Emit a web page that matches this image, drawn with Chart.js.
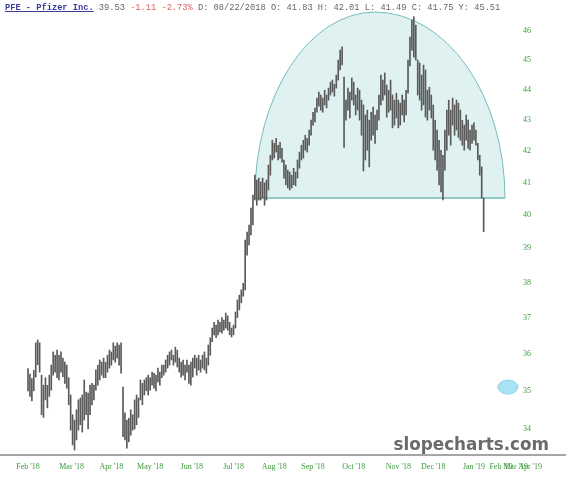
<!DOCTYPE html>
<html>
<head>
<meta charset="utf-8">
<script src="https://cdn.jsdelivr.net/npm/chart.js@4.4.1/dist/chart.umd.min.js"></script>
<style>
html, body { margin: 0; padding: 0; background: #fff; }
#wrap { position: relative; width: 566px; height: 480px; }
#head { position: absolute; left: 5px; top: 3px; font: 8.7px 'Liberation Mono', monospace; color: #666; white-space: pre; }
#head .sym { color: #3b3ba0; text-decoration: underline; font-weight: bold; }
#head .dn { color: #e06060; }
</style>
</head>
<body>
<div id="wrap">
<canvas id="chart" width="566" height="480"></canvas>
<div id="head"><span class="sym">PFE - Pfizer Inc.</span> 39.53 <span class="dn">-1.11 -2.73%</span> D: 08/22/2018 O: 41.83 H: 42.01 L: 41.49 C: 41.75 Y: 45.51</div>
</div>
<script>
// daily high / low, one entry per trading day from Feb '18
var highs = [
    35.60, 35.45, 35.33, 35.55, 36.30, 36.38, 36.30, 35.42, 35.15, 35.35,
    35.15, 35.42, 35.69, 36.05, 35.96, 36.10, 35.96, 36.05, 35.88, 35.77,
    35.69, 35.35, 34.89, 34.37, 34.23, 34.50, 34.76, 34.81, 34.89, 35.29,
    34.97, 34.94, 35.15, 35.20, 35.15, 35.56, 35.69, 35.83, 35.77, 35.88,
    35.77, 35.96, 36.10, 36.05, 36.30, 36.21, 36.30, 36.24, 36.30, 35.10,
    34.42, 34.23, 34.28, 34.50, 34.37, 34.76, 34.89, 34.81, 35.29, 35.20,
    35.29, 35.35, 35.42, 35.35, 35.50, 35.47, 35.42, 35.61, 35.50, 35.69,
    35.69, 35.83, 35.96, 36.05, 36.10, 35.96, 36.18, 36.10, 35.88, 35.77,
    35.83, 35.69, 35.83, 35.69, 35.77, 35.88, 35.96, 35.88, 35.96, 35.83,
    35.96, 36.05, 35.88, 36.24, 36.44, 36.71, 36.87, 36.79, 36.93, 36.87,
    37.00, 36.93, 37.13, 37.05, 36.87, 36.71, 36.79, 37.16, 37.50, 37.64,
    37.79, 37.98, 39.25, 39.49, 39.70, 40.21, 40.61, 41.23, 41.08, 41.14,
    41.02, 41.14, 40.99, 41.08, 41.55, 41.86, 42.34, 42.24, 42.40, 42.18,
    42.27, 42.08, 41.71, 41.55, 41.39, 41.33, 41.23, 41.45, 41.33, 41.71,
    41.96, 42.18, 42.34, 42.50, 42.40, 42.67, 42.99, 43.25, 43.39, 43.72,
    43.92, 43.82, 43.72, 43.98, 43.82, 44.05, 44.25, 44.32, 44.18, 44.49,
    45.00, 45.34, 45.45, 44.42, 43.65, 44.05, 43.92, 44.39, 44.25, 43.82,
    44.05, 43.98, 43.65, 43.49, 43.16, 43.32, 42.99, 43.25, 43.42, 43.16,
    43.32, 43.82, 44.49, 44.32, 44.56, 44.15, 43.98, 44.32, 43.82, 43.65,
    43.88, 43.65, 43.55, 43.82, 43.65, 43.98, 45.00, 45.79, 46.39, 46.50,
    46.21, 45.00, 44.90, 44.49, 44.83, 44.66, 43.98, 44.08, 43.82, 43.49,
    42.99, 42.67, 42.34, 42.02, 41.86, 42.67, 43.32, 43.65, 43.32, 43.72,
    43.49, 43.65, 43.55, 43.32, 42.99, 42.83, 43.16, 42.99, 42.67, 42.83,
    42.90, 42.67, 42.24, 41.86, 41.49, 40.52
];
var lows = [
    35.00, 34.85, 34.73, 35.00, 35.37, 35.70, 35.50, 34.37, 34.30, 34.76,
    34.55, 34.85, 35.02, 35.42, 35.50, 35.35, 35.29, 35.50, 35.37, 35.20,
    35.07, 34.63, 33.97, 33.59, 33.46, 33.72, 33.97, 34.11, 33.92, 34.23,
    34.37, 34.00, 34.37, 34.63, 34.76, 35.02, 35.15, 35.29, 35.42, 35.35,
    35.35, 35.50, 35.61, 35.69, 35.83, 35.77, 35.88, 35.69, 35.47, 33.80,
    33.72, 33.51, 33.67, 33.84, 33.97, 34.00, 34.11, 34.30, 34.76, 34.63,
    34.89, 35.00, 34.89, 35.02, 35.15, 35.07, 35.00, 35.24, 35.15, 35.35,
    35.42, 35.50, 35.61, 35.69, 35.83, 35.69, 35.77, 35.64, 35.50, 35.37,
    35.42, 35.29, 35.50, 35.20, 35.15, 35.37, 35.61, 35.42, 35.56, 35.50,
    35.61, 35.56, 35.47, 35.69, 35.96, 36.33, 36.52, 36.44, 36.52, 36.60,
    36.57, 36.65, 36.71, 36.65, 36.52, 36.46, 36.52, 36.71, 37.00, 37.22,
    37.42, 37.61, 37.79, 38.80, 39.10, 39.40, 39.70, 40.46, 40.30, 40.46,
    40.46, 40.52, 40.30, 40.46, 40.77, 41.23, 41.71, 41.77, 41.96, 41.71,
    41.77, 41.64, 41.14, 40.93, 40.83, 40.77, 40.83, 40.93, 40.90, 41.14,
    41.45, 41.71, 41.77, 42.02, 41.96, 42.18, 42.50, 42.83, 42.93, 43.25,
    43.45, 43.32, 43.25, 43.49, 43.39, 43.65, 43.82, 43.92, 43.78, 44.05,
    44.32, 44.66, 44.83, 42.11, 42.99, 43.32, 43.06, 43.65, 43.49, 43.16,
    43.32, 42.99, 42.50, 41.36, 41.71, 42.02, 41.49, 42.34, 42.50, 42.24,
    42.67, 42.99, 43.49, 43.65, 43.82, 43.09, 43.25, 43.32, 42.74, 42.83,
    43.06, 42.74, 42.83, 43.16, 42.93, 43.16, 43.88, 44.80, 45.34, 45.10,
    45.00, 43.82, 43.65, 43.32, 43.49, 43.09, 42.99, 43.32, 43.06, 42.02,
    41.71, 41.39, 40.93, 40.71, 40.46, 41.39, 42.02, 42.50, 42.18, 42.83,
    42.50, 42.67, 42.43, 42.34, 42.18, 42.02, 42.34, 42.08, 42.02, 42.24,
    42.34, 42.18, 41.71, 41.23, 40.52, 39.50
];

var monthLabels = ["Feb '18", "Mar '18", "Apr '18", "May '18", "Jun '18", "Jul '18", "Aug '18",
    "Sep '18", "Oct '18", "Nov '18", "Dec '18", "Jan '19", "Feb '19", "Mar '19", "Apr '19"];
var monthTicks = [0, 22.5, 43, 63, 84.5, 106, 127, 147, 168, 191, 209, 230, 244, 251.5, 259];
var priceTicks = [34, 35, 36, 37, 38, 39, 40, 41, 42, 43, 44, 45, 46];

// drawn dome (day index / price)
var domeLeft = 117, domeApex = 179, domeRight = 246;
var domeBase = 40.52, domeTop = 46.67;
// drawn marker
var markerDay = 247.5, markerPrice = 35.1;

var points = [];
for (var i = 0; i < highs.length; i++) {
    points.push({x: i, y: [lows[i], highs[i]]});
}

var tickColor = '#3a9a3a';
var tickFont = {family: "'Liberation Serif', serif", size: 8};

var drawings = {
    id: 'drawings',
    beforeDatasetsDraw: function (chart) {
        var ctx = chart.ctx, xs = chart.scales.x, ys = chart.scales.y;
        var l = xs.getPixelForValue(domeLeft);
        var a = xs.getPixelForValue(domeApex);
        var r = xs.getPixelForValue(domeRight);
        var b = ys.getPixelForValue(domeBase);
        var t = ys.getPixelForValue(domeTop);
        ctx.save();
        ctx.beginPath();
        ctx.moveTo(l, b);
        ctx.ellipse(a, b, a - l, b - t, 0, Math.PI, Math.PI * 1.5);
        ctx.ellipse(a, b, r - a, b - t, 0, Math.PI * 1.5, Math.PI * 2);
        ctx.closePath();
        ctx.fillStyle = 'rgba(178, 224, 222, 0.42)';
        ctx.fill();
        ctx.strokeStyle = '#74bdb8';
        ctx.lineWidth = 1;
        ctx.stroke();
        ctx.beginPath();
        ctx.moveTo(l, b);
        ctx.lineTo(r, b);
        ctx.lineWidth = 2;
        ctx.strokeStyle = '#8fcac6';
        ctx.stroke();

        var mx = xs.getPixelForValue(markerDay), my = ys.getPixelForValue(markerPrice);
        ctx.beginPath();
        ctx.ellipse(mx, my, 10, 7, 0, 0, Math.PI * 2);
        ctx.fillStyle = '#a9e3f3';
        ctx.fill();
        ctx.strokeStyle = '#8fd3ea';
        ctx.lineWidth = 1;
        ctx.stroke();
        ctx.restore();
    },
    afterDraw: function (chart) {
        var ctx = chart.ctx, area = chart.chartArea;
        ctx.save();
        ctx.fillStyle = '#a6a6a6';
        ctx.fillRect(0, area.bottom, chart.width, 2);
        ctx.font = "bold 16.8px 'DejaVu Sans', sans-serif";
        ctx.fillStyle = '#6a6a6a';
        ctx.textAlign = 'right';
        ctx.textBaseline = 'alphabetic';
        ctx.fillText('slopecharts.com', 549, 450);
        ctx.restore();
    }
};

var chart = new Chart(document.getElementById('chart'), {
    type: 'bar',
    data: {
        datasets: [{
            label: 'PFE',
            data: points,
            backgroundColor: '#5a5a5a',
            barThickness: 1,
            borderWidth: 0
        }]
    },
    options: {
        responsive: false,
        animation: false,
        devicePixelRatio: 1,
        layout: {padding: {left: 0, right: 30, top: 0, bottom: 0}},
        plugins: {
            legend: {display: false},
            tooltip: {enabled: false}
        },
        scales: {
            x: {
                type: 'linear',
                offset: false,
                min: -14.44,
                max: 262,
                grid: {display: false, offset: false},
                border: {display: false},
                ticks: {
                    color: tickColor,
                    font: tickFont,
                    padding: 0,
                    autoSkip: false,
                    maxRotation: 0,
                    callback: function (v) {
                        var k = monthTicks.indexOf(v);
                        return k >= 0 ? monthLabels[k] : '';
                    }
                },
                afterBuildTicks: function (s) {
                    s.ticks = monthTicks.map(function (v) { return {value: v}; });
                },
                afterFit: function (s) {
                    s.height = 26;
                    s.paddingLeft = 0;
                    s.paddingRight = 0;
                }
            },
            y: {
                type: 'logarithmic',
                position: 'right',
                min: 33.36,
                max: 47.1,
                grid: {display: false},
                border: {display: false},
                ticks: {
                    color: tickColor,
                    font: tickFont,
                    mirror: true,
                    padding: -5,
                    callback: function (v) { return String(v); }
                },
                afterBuildTicks: function (s) {
                    s.ticks = priceTicks.map(function (v) { return {value: v}; });
                },
                afterFit: function (s) {
                    s.width = 0;
                    s.paddingTop = 0;
                    s.paddingBottom = 0;
                }
            }
        }
    },
    plugins: [drawings]
});
</script>
</body>
</html>
